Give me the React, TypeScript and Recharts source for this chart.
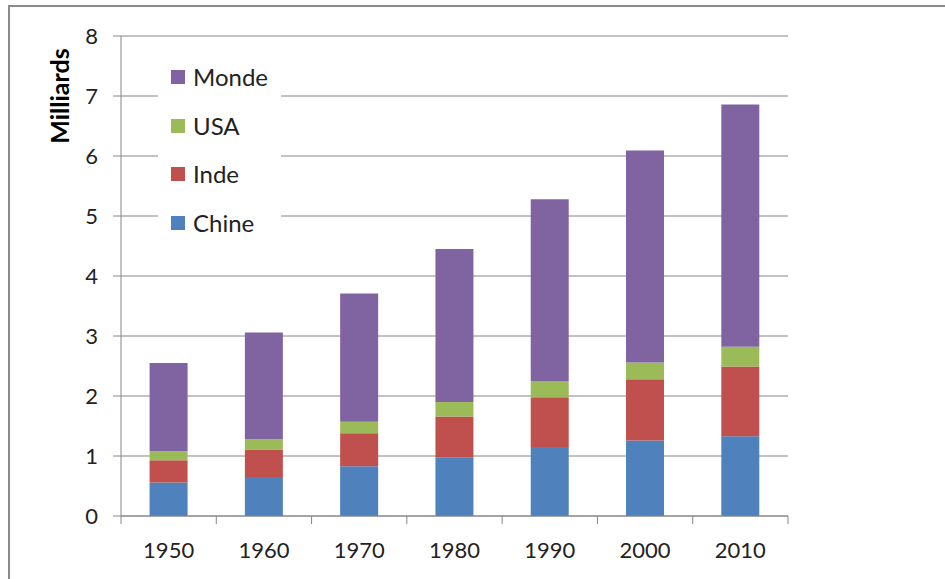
import React from 'react';
import { BarChart, Bar, XAxis, YAxis, CartesianGrid, Legend } from 'recharts';

// Population (milliards) par décennie
const years = ['1950', '1960', '1970', '1980', '1990', '2000', '2010'];
const chine = [0.56, 0.65, 0.83, 0.98, 1.15, 1.26, 1.33];
const inde = [0.37, 0.46, 0.55, 0.68, 0.83, 1.02, 1.16];
const usa = [0.15, 0.17, 0.19, 0.24, 0.27, 0.28, 0.33];
// Reste du monde, empilé au-dessus pour atteindre la population mondiale
const monde = [1.47, 1.78, 2.14, 2.55, 3.03, 3.53, 4.04];
const yTicks = [0, 1, 2, 3, 4, 5, 6, 7, 8];

const series = [
  { key: 'Chine', values: chine, color: '#4F81BD' },
  { key: 'Inde', values: inde, color: '#C0504D' },
  { key: 'USA', values: usa, color: '#9BBB59' },
  { key: 'Monde', values: monde, color: '#8064A2' },
];

const data = years.map((year, i) => {
  const row: Record<string, string | number> = { year };
  series.forEach((s) => {
    row[s.key] = s.values[i];
  });
  return row;
});

const FONT = 'Lato, "Open Sans", sans-serif';
const AXIS_COLOR = '#868686';

// Category labels with tick marks placed on the category boundaries
const XTick = (props: any) => {
  const { x, y, payload, index, visibleTicksCount } = props;
  const half = payload && typeof payload.offset === 'number' ? payload.offset : 47.6;
  const axisY = y - 8;
  const last = index === visibleTicksCount - 1;
  return (
    <g>
      <line x1={x - half} x2={x - half} y1={axisY} y2={axisY + 8} stroke={AXIS_COLOR} strokeWidth={1} />
      {last && <line x1={x + half} x2={x + half} y1={axisY} y2={axisY + 8} stroke={AXIS_COLOR} strokeWidth={1} />}
      <text x={x} y={axisY + 42} textAnchor="middle" fontFamily={FONT} fontSize={22} fill="#222222">
        {payload.value}
      </text>
    </g>
  );
};

// Legend listed top-down in reverse stacking order
const LegendBox = () => {
  const items = [...series].reverse();
  return (
    <div
      style={{
        background: '#ffffff',
        width: 123,
        height: 194,
        boxSizing: 'border-box',
        fontFamily: FONT,
      }}
    >
      {items.map((it) => (
        <div
          key={it.key}
          style={{ display: 'flex', alignItems: 'center', height: 48.5, paddingLeft: 13 }}
        >
          <span style={{ width: 14, height: 14, background: it.color, display: 'inline-block' }} />
          <span style={{ marginLeft: 8, fontSize: 24, color: '#222222', lineHeight: '24px' }}>{it.key}</span>
        </div>
      ))}
    </div>
  );
};

const AxisTitle = (props: any) => {
  const vb = props.viewBox || { x: 20, y: 36 };
  const cx = vb.x + 39;
  const cy = vb.y + 60;
  return (
    <text
      x={cx}
      y={cy}
      transform={`rotate(-90 ${cx} ${cy})`}
      textAnchor="middle"
      dominantBaseline="central"
      fontFamily={FONT}
      fontWeight="bold"
      fontSize={25}
      fill="#000000"
    >
      Milliards
    </text>
  );
};

export default function App() {
  return (
    <div
      style={{
        position: 'absolute',
        left: 0,
        top: 0,
        width: 945,
        height: 579,
        overflow: 'hidden',
        background: '#ffffff',
      }}
    >
      <div
        style={{
          position: 'absolute',
          left: 8,
          top: 5,
          width: 1200,
          height: 1200,
          borderTop: '2px solid #8a8a8a',
          borderLeft: '2px solid #8a8a8a',
        }}
      />
      <div style={{ position: 'absolute', left: 0, top: 0 }}>
        <BarChart
          width={945}
          height={579}
          data={data}
          margin={{ top: 36, right: 157, bottom: 0, left: 20 }}
          barCategoryGap="30%"
        >
          <CartesianGrid vertical={false} stroke={AXIS_COLOR} strokeWidth={1} />
          <XAxis
            dataKey="year"
            height={63}
            axisLine={{ stroke: AXIS_COLOR }}
            tickLine={{ stroke: 'none' }}
            tickSize={8}
            tickMargin={0}
            tick={<XTick />}
            interval={0}
          />
          <YAxis
            width={101}
            domain={[0, 8]}
            ticks={yTicks}
            interval={0}
            axisLine={{ stroke: AXIS_COLOR }}
            tickLine={{ stroke: AXIS_COLOR }}
            tickSize={8}
            tickMargin={15}
            tick={{ fontFamily: FONT, fontSize: 22, fill: '#222222' }}
            label={{ content: <AxisTitle /> }}
          />
          <Legend
            layout="vertical"
            align="center"
            verticalAlign="middle"
            content={<LegendBox />}
            wrapperStyle={{ left: 158, top: 53, width: 123, height: 194 }}
          />
          {series.map((s) => (
            <Bar key={s.key} dataKey={s.key} name={s.key} stackId="pop" fill={s.color} isAnimationActive={false} />
          ))}
        </BarChart>
      </div>
    </div>
  );
}
